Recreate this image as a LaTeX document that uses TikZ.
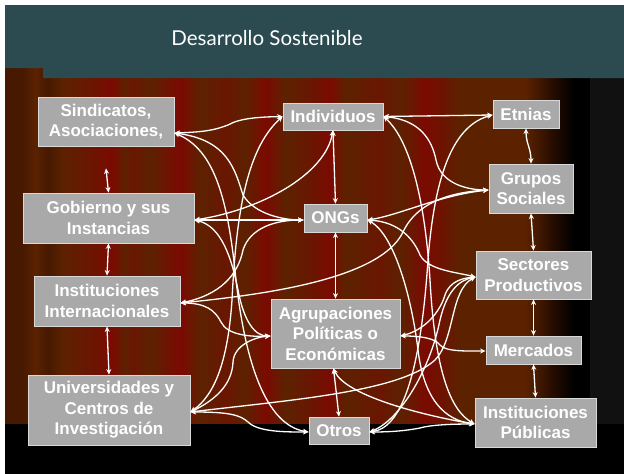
\documentclass[tikz,border=0pt]{standalone}
\usepackage{fontspec}
\setmainfont{Liberation Sans}
\newfontfamily\titlefont{Lato}
\usetikzlibrary{arrows.meta}
\definecolor{bar}{HTML}{2B4B50}
\definecolor{brn}{HTML}{5C2200}
\definecolor{dbrn}{HTML}{461900}
\definecolor{redc}{HTML}{7C0A02}
\definecolor{midc}{HTML}{6A1601}
\definecolor{fadec}{HTML}{2A0E00}
\definecolor{boxc}{HTML}{A9A9A9}
\definecolor{edgec}{HTML}{D9D9D9}
\definecolor{rgray}{HTML}{111111}
\begin{document}
\begin{tikzpicture}[x=1pt,y=-1pt,
  box/.style={draw=edgec, line width=0.8pt, fill=boxc, text=white,
    font=\bfseries\fontsize{17}{20.5}\selectfont, align=center, inner sep=0pt},
  conn/.style={draw=white, line width=1.3pt, <->, >={Stealth[length=5.5pt,width=5pt]}}]
\useasboundingbox (0,0) rectangle (624,474);
\fill[white] (0,0) rectangle (624,474);
% curtain
\foreach \xa/\ca/\xb/\cb in {5/dbrn/22/dbrn, 22/dbrn/35/brn, 35/brn/48/dbrn, 48/dbrn/62/brn,
  62/brn/90/midc, 90/midc/112/redc, 112/redc/125/brn, 125/brn/132/midc, 132/midc/150/brn,
  150/brn/180/redc, 180/redc/200/brn, 200/brn/225/midc, 225/midc/245/brn, 245/brn/265/redc,
  265/redc/285/brn, 285/brn/312/midc, 312/midc/330/redc, 330/redc/345/brn, 345/brn/380/midc,
  380/midc/400/brn, 400/brn/425/redc, 425/redc/445/midc, 445/midc/460/brn, 460/brn/525/brn,
  525/brn/550/fadec, 550/fadec/573/black, 573/black/591/black}
  \shade[left color=\ca, right color=\cb] (\xa,68) rectangle (\xb+0.6,425);
\fill[rgray] (590,78) rectangle (624,425);
\fill[black] (5,424) rectangle (624,474);
\fill[bar] (5,5) -- (624,5) -- (624,78) -- (43,78) -- (43,68) -- (5,68) -- cycle;
\node[text=white, font=\titlefont\fontsize{20.5}{24}\selectfont] (title) at (267,38) {Desarrollo Sostenible};
% nodes
\node[box, minimum width=136pt, minimum height=49pt] (sind) at (106,121.5) {Sindicatos,\\Asociaciones,};
\node[box, minimum width=171pt, minimum height=50pt] (gob) at (108.5,218) {Gobierno y sus\\Instancias};
\node[box, minimum width=146pt, minimum height=50pt] (inti) at (107,301) {Instituciones\\Internacionales};
\node[box, minimum width=162pt, minimum height=70pt] (univ) at (109,410) {Universidades y\\Centros de\\Investigación};
\node[box, minimum width=100pt, minimum height=27pt] (indiv) at (333,116.5) {Individuos};
\node[box, minimum width=63pt, minimum height=28pt] (ongs) at (335.5,218) {ONGs};
\node[box, minimum width=129pt, minimum height=69pt] (agrup) at (335.5,333.5) {Agrupaciones\\Políticas o\\Económicas};
\node[box, minimum width=60pt, minimum height=27pt] (otros) at (339,430.5) {Otros};
\node[box, minimum width=66pt, minimum height=28pt] (etnias) at (526,114) {Etnias};
\node[box, minimum width=84pt, minimum height=49pt] (grupos) at (531,188.5) {Grupos\\Sociales};
\node[box, minimum width=115pt, minimum height=48pt] (sect) at (533.5,275) {Sectores\\Productivos};
\node[box, minimum width=95pt, minimum height=28pt] (merc) at (533.5,350) {Mercados};
\node[box, minimum width=121pt, minimum height=49pt] (instp) at (535.5,422.5) {Instituciones\\Públicas};
% vertical links
\draw[conn] ([yshift=-22pt]sind.south) -- (gob.north);
\draw[conn] (gob.south) -- (inti.north);
\draw[conn] (inti.south) -- (univ.north);
\draw[conn] (etnias.south) .. controls +(0,15) and +(0,-15) .. (grupos.north);
\draw[conn] (grupos.south) -- (sect.north);
\draw[conn] (sect.south) -- (merc.north);
\draw[conn] (merc.south) -- (instp.north);
\draw[conn] (indiv.south) -- (ongs.north);
\draw[conn] (ongs.south) -- (agrup.north);
\draw[conn] ([xshift=-2pt]agrup.south) -- (otros.north);
% cross links
\draw[conn] ([yshift=-11.5pt]sind.east) .. controls (205,132) and (215,130) .. (228,125) .. controls (240,118) and (260,117) .. (indiv.west);
\draw[conn] ([yshift=-11.5pt]sind.east) .. controls (228,140) and (235,170) .. (243,195) .. controls (255,215) and (285,220) .. ([yshift=-2pt]ongs.west);
\draw[conn] ([yshift=-11.5pt]sind.east) .. controls (215,150) and (228,200) .. (236,280) .. controls (245,360) and (265,425) .. ([yshift=-1.5pt]otros.west);
\draw[conn] ([yshift=-2pt]gob.east) -- ([yshift=-2pt]ongs.west);
\draw[conn] ([yshift=-2pt]gob.east) .. controls (260,210) and (325,175) .. (indiv.south);
\draw[conn] ([yshift=-2pt]gob.east) .. controls (222,226) and (232,260) .. (238,290) .. controls (244,322) and (255,336) .. ([yshift=-2.5pt]agrup.west);
\draw[conn] ([yshift=-2pt]inti.east) .. controls (220,295) and (238,275) .. (243,250) .. controls (250,228) and (275,220) .. ([yshift=-2pt]ongs.west);
\draw[conn] ([yshift=-2pt]inti.east) .. controls (260,295) and (380,280) .. (403,232) .. controls (418,200) and (455,192) .. ([yshift=-1.5pt]grupos.west);
\draw[conn] ([yshift=-2pt]inti.east) .. controls (205,303) and (215,310) .. (221,322) .. controls (227,335) and (250,337) .. ([yshift=-2.5pt]agrup.west);
\draw[conn] ([yshift=-2pt]univ.east) .. controls (215,400) and (232,385) .. (233,362) .. controls (234,345) and (255,337) .. ([yshift=-2.5pt]agrup.west);
\draw[conn] ([yshift=-2pt]univ.east) .. controls (215,395) and (228,360) .. (232,300) .. controls (236,220) and (245,150) .. (indiv.west);
\draw[conn] ([yshift=-2pt]univ.east) .. controls (230,412) and (240,415) .. (248,422) .. controls (258,432) and (285,432) .. ([yshift=-1.5pt]otros.west);
\draw[conn] ([yshift=-2pt]univ.east) .. controls (290,400) and (400,392) .. (435,360) .. controls (455,340) and (450,290) .. ([yshift=-2pt]sect.west);
\draw[conn] (indiv.east) -- ([yshift=-1pt]etnias.west);
\draw[conn] (indiv.east) .. controls (420,120) and (432,140) .. (436,160) .. controls (441,185) and (470,190) .. ([yshift=-1.5pt]grupos.west);
\draw[conn] (indiv.east) .. controls (410,140) and (425,200) .. (430,280) .. controls (435,370) and (450,410) .. ([yshift=-1.5pt]instp.west);
\draw[conn] ([yshift=-1pt]etnias.west) .. controls (455,125) and (435,170) .. (428,260) .. controls (420,380) and (400,428) .. ([yshift=-1.5pt]otros.east);
\draw[conn] ([yshift=-2pt]ongs.east) .. controls (400,215) and (440,195) .. ([yshift=-1.5pt]grupos.west);
\draw[conn] ([yshift=-2pt]ongs.east) .. controls (400,222) and (414,240) .. (420,255) .. controls (428,270) and (455,272) .. ([yshift=-2pt]sect.west);
\draw[conn] ([yshift=-2pt]ongs.east) .. controls (395,235) and (412,300) .. (418,350) .. controls (424,400) and (445,420) .. ([yshift=-1.5pt]instp.west);
\draw[conn] ([yshift=-2.5pt]agrup.east) .. controls (425,330) and (440,312) .. (445,295) .. controls (450,280) and (465,278) .. ([yshift=-2pt]sect.west);
\draw[conn] ([yshift=-2.5pt]agrup.east) .. controls (420,336) and (435,338) .. (440,345) .. controls (445,352) and (470,351) .. ([yshift=-1pt]merc.west);
\draw[conn] ([xshift=-2pt]agrup.south) .. controls (345,395) and (420,415) .. ([yshift=-1.5pt]instp.west);
\draw[conn] ([yshift=-1.5pt]otros.east) .. controls (395,432) and (410,430) .. (420,428) .. controls (430,425) and (450,424) .. ([yshift=-1.5pt]instp.west);
\draw[conn] ([yshift=-1.5pt]otros.east) .. controls (400,420) and (430,370) .. (440,320) .. controls (447,290) and (460,280) .. ([yshift=-2pt]sect.west);
\end{tikzpicture}
\end{document}
